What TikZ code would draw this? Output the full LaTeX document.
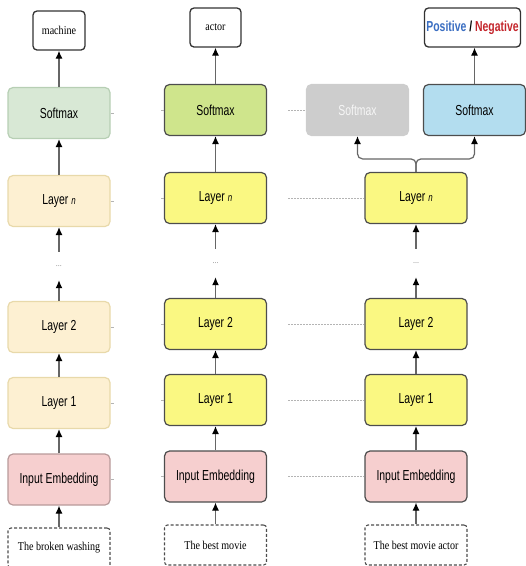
\documentclass[tikz,border=0pt]{standalone}
\usepackage{fontspec}
\setmainfont{Liberation Serif}
\setsansfont{Liberation Sans}
\usetikzlibrary{arrows.meta}

\definecolor{edge}{HTML}{4D4D4D}
\definecolor{outedge}{HTML}{333333}
\definecolor{linegray}{HTML}{666666}
\definecolor{dotgray}{HTML}{B4B4B4}
\definecolor{paleGreen}{HTML}{D8E8D5}
\definecolor{paleGreenEdge}{HTML}{B7CFB4}
\definecolor{paleYellow}{HTML}{FDF0D2}
\definecolor{paleYellowEdge}{HTML}{E8D9AA}
\definecolor{limeFill}{HTML}{CFE58C}
\definecolor{yellowFill}{HTML}{FAF882}
\definecolor{pinkFill}{HTML}{F6CFCF}
\definecolor{pinkEdgePale}{HTML}{B89A9A}
\definecolor{greyFill}{HTML}{CDCDCD}
\definecolor{blueFill}{HTML}{B3DDEF}
\definecolor{posBlue}{HTML}{3A6EC2}
\definecolor{negRed}{HTML}{C4262C}

% condensed sans and serif labels
\newcommand{\sq}[1]{\scalebox{0.72}[1]{#1}}
\newcommand{\sr}[1]{\scalebox{0.84}[1]{#1}}
\newcommand{\layern}{\sq{Layer {\fontsize{11}{11}\selectfont\itshape n}}}

\tikzset{
  box/.style={rounded corners=5pt, minimum width=102pt, minimum height=51pt,
    inner sep=0pt, line width=1.2pt, draw=edge,
    font=\sffamily\fontsize{14.5}{16}\selectfont},
  outbox/.style={rounded corners=4pt, draw=outedge, fill=white, line width=1.3pt,
    minimum height=39pt, inner sep=0pt, font=\rmfamily\fontsize{12}{14}\selectfont},
  srcbox/.style={rounded corners=3pt, draw=edge, fill=white, line width=1.1pt,
    dash pattern=on 3pt off 2pt, minimum width=102pt, minimum height=40pt,
    inner sep=0pt, font=\rmfamily\fontsize{12}{14}\selectfont},
  dotsnode/.style={minimum height=28pt, minimum width=10pt, inner sep=0pt,
    text=gray, font=\fontsize{8}{8}\selectfont},
  arr/.style={draw=linegray, line width=1.2pt,
    -{Latex[length=8pt,width=7pt,color=black]}},
  link/.style={draw=dotgray, line width=1pt, dash pattern=on 1.5pt off 1.5pt},
  stub/.style={draw=dotgray, line width=0.8pt},
}

\begin{document}
\begin{tikzpicture}[x=1pt, y={(0pt,-1pt)}]
\useasboundingbox (0,0) rectangle (526,566);

% ---------- column 1: pre-training stack ----------
\node[outbox, minimum width=52pt] (o1) at (59,30.5) {\sr{machine}};
\node[box, fill=paleGreen, draw=paleGreenEdge] (s1) at (59,113) {\sq{Softmax}};
\node[box, fill=paleYellow, draw=paleYellowEdge] (n1) at (59,201) {\layern};
\node[dotsnode] (d1) at (59,266) {...};
\node[box, fill=paleYellow, draw=paleYellowEdge] (b1) at (59,327) {\sq{Layer 2}};
\node[box, fill=paleYellow, draw=paleYellowEdge] (a1) at (59,403) {\sq{Layer 1}};
\node[box, fill=pinkFill, draw=pinkEdgePale] (e1) at (59,479.5) {\sq{Input Embedding}};
\node[srcbox] (t1) at (59,548) {\sr{The broken washing}};

% ---------- column 2 ----------
\node[outbox, minimum width=51pt] (o2) at (215.5,27.5) {\sr{actor}};
\node[box, fill=limeFill] (s2) at (215.5,110) {\sq{Softmax}};
\node[box, fill=yellowFill] (n2) at (215.5,198) {\layern};
\node[dotsnode] (d2) at (215.5,263) {...};
\node[box, fill=yellowFill] (b2) at (215.5,324) {\sq{Layer 2}};
\node[box, fill=yellowFill] (a2) at (215.5,400) {\sq{Layer 1}};
\node[box, fill=pinkFill] (e2) at (215.5,476.5) {\sq{Input Embedding}};
\node[srcbox] (t2) at (215.5,545) {\sr{The best movie}};

% ---------- column 3: fine-tuning ----------
\node[outbox, minimum width=96pt, font=\sffamily\bfseries\fontsize{14.5}{16}\selectfont]
  (o3) at (472.5,27.5) {\sq{\textcolor{posBlue}{Positive} / \textcolor{negRed}{Negative}}};
\node[box, fill=greyFill, draw=greyFill, text=white!93!gray] (g3) at (357.5,110) {\sq{Softmax}};
\node[box, fill=blueFill] (s3) at (474.5,110) {\sq{Softmax}};
\node[box, fill=yellowFill] (n3) at (416,198) {\layern};
\node[dotsnode] (d3) at (416,263) {...};
\node[box, fill=yellowFill] (b3) at (416,324) {\sq{Layer 2}};
\node[box, fill=yellowFill] (a3) at (416,400) {\sq{Layer 1}};
\node[box, fill=pinkFill] (e3) at (416,476.5) {\sq{Input Embedding}};
\node[srcbox] (t3) at (416,545) {\sr{The best movie actor}};

% ---------- upward flow ----------
\foreach \c in {1,2,3} {
  \draw[arr] (t\c.north) -- (e\c.south);
  \draw[arr] (e\c.north) -- (a\c.south);
  \draw[arr] (a\c.north) -- (b\c.south);
  \draw[arr] (b\c.north) -- (d\c.south);
  \draw[arr] (d\c.north) -- (n\c.south);
}
\foreach \c in {1,2} {
  \draw[arr] (n\c.north) -- (s\c.south);
  \draw[arr] (s\c.north) -- (o\c.south);
}
\draw[arr] (s3.north) -- (s3.north |- o3.south);

% fork from the top layer into the two heads
\coordinate (fork) at ([yshift=13pt]n3.north);
\draw[arr, rounded corners=5pt] (n3.north) -- (fork) -| (g3.south);
\draw[arr, rounded corners=5pt] (n3.north) -- (fork) -| (s3.south);

% ---------- dotted correspondences between columns ----------
\coordinate (ks) at (288,110);
\draw[link] (ks) -- (g3.west);
\foreach \r in {n,b,a,e} {
  \coordinate (k\r) at (288,0 |- \r3.west);
  \draw[link] (k\r) -- (\r3.west);
}
\foreach \r in {s,n,b,a,e} {
  \draw[stub] (\r1.east) -- ++(3,0);
  \draw[stub] (\r2.west) -- ++(-3,0);
}
\end{tikzpicture}
\end{document}
